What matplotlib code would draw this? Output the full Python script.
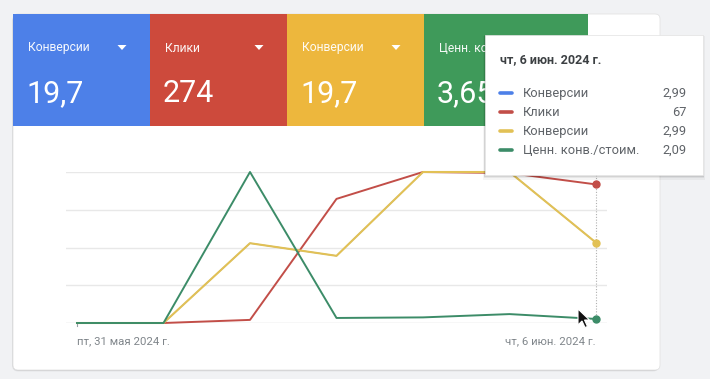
import matplotlib
matplotlib.use("Agg")
import matplotlib.pyplot as plt
from matplotlib.patches import FancyBboxPatch, Rectangle, Polygon

plt.rcParams['font.family'] = ['Roboto', 'DejaVu Sans']

# ---- data ----
days = ["пт, 31 мая 2024 г.", "сб, 1 июн. 2024 г.", "вс, 2 июн. 2024 г.", "пн, 3 июн. 2024 г.",
        "вт, 4 июн. 2024 г.", "ср, 5 июн. 2024 г.", "чт, 6 июн. 2024 г."]
conversions = [0, 0, 2.97, 2.5, 5.62, 5.62, 2.99]
clicks = [0, 0, 1.5, 60, 73, 72.5, 67]
conv_value_cost = [0, 0, 78, 2.6, 2.9, 4.6, 2.09]

tile_labels = ["Конверсии", "Клики", "Конверсии", "Ценн. конв./стоим."]
tile_values = ["19,7", "274", "19,7", "3,65"]
tile_colors = ["#4d80e8", "#cd4a3c", "#edb73d", "#3f9a5a"]
line_colors = ["#4d80e8", "#c24e48", "#e2c155", "#3c8c68"]
series_names = ["Конверсии", "Клики", "Конверсии", "Ценн. конв./стоим."]
tooltip_values = ["2,99", "67", "2,99", "2,09"]
tooltip_title = "чт, 6 июн. 2024 г."

W, H = 710, 379
fig = plt.figure(figsize=(W / 100, H / 100), dpi=100)
fig.patch.set_facecolor("#f1f2f4")

def px_axes(zorder):
    a = fig.add_axes([0, 0, 1, 1], zorder=zorder)
    a.set_xlim(0, W)
    a.set_ylim(H, 0)
    a.axis("off")
    a.patch.set_alpha(0)
    return a

# ---- background card & tiles ----
bg = px_axes(0)
for off, al in [(3, 0.05), (2, 0.06), (1, 0.08)]:
    bg.add_patch(FancyBboxPatch((13 - off * 0.3, 14 + off * 0.5), 647, 356,
                                boxstyle="round,pad=0,rounding_size=6",
                                fc="#000000", ec="none", alpha=al))
bg.add_patch(FancyBboxPatch((13, 14), 647, 356, boxstyle="round,pad=0,rounding_size=5",
                            fc="white", ec="#e3e3e3", lw=0.6))
tile_x = [13, 150, 287, 424]
tile_w = [137, 137, 137, 164]
for i in range(4):
    x0 = tile_x[i]
    bg.add_patch(Rectangle((x0, 14), tile_w[i], 112, fc=tile_colors[i], ec="none"))
    bg.text(x0 + 15, 48, tile_labels[i], color="white", fontsize=8.7, va="center", ha="left", alpha=0.95)
    if i < 3:
        tx = x0 + 109
        bg.add_patch(Polygon([[tx - 4.5, 45], [tx + 4.5, 45], [tx, 50]], closed=True, fc="white", ec="none"))
    bg.text(x0 + 13, 94, tile_values[i], color="white", fontsize=22, va="center", ha="left")

# ---- chart ----
x_left, x_right, y_top, y_base = 66, 607, 172, 323
ax = fig.add_axes([x_left / W, 1 - y_base / H, (x_right - x_left) / W, (y_base - y_top) / H], zorder=1)
ax.patch.set_alpha(0)
xs = list(range(len(days)))
pad = 11 / 86.5
ax.set_xlim(-pad, len(days) - 1 + pad)
ax.set_ylim(0, 1)
for g in [0, 0.25, 0.5, 0.75, 1.0]:
    ax.axhline(g, color="#d9d9d9" if g == 0 else "#e8e8e8", lw=1.0, zorder=0)
for s in ax.spines.values():
    s.set_visible(False)
ax.set_xticks([])
ax.set_yticks([])
ax.plot([0, 0], [0, -0.02], color="#9aa0a6", lw=0.8, clip_on=False)
ax.text(0, -0.09, days[0], transform=ax.transData, ha="left", va="top", fontsize=8.2, color="#80868b")
ax.text(6, -0.09, days[-1], transform=ax.transData, ha="right", va="top", fontsize=8.2, color="#80868b")
ax.axvline(6, ymin=0, ymax=1.0, color="#b0b0b0", lw=0.8, ls=(0, (1, 1.5)), zorder=1)

series = [conversions, clicks, conversions, conv_value_cost]
widths = [0.8, 1.4, 1.5, 1.4]
for i, vals in enumerate(series):
    t = ax.twinx()
    t.set_ylim(0, max(vals))
    t.axis("off")
    t.patch.set_alpha(0)
    t.plot(xs, vals, color=line_colors[i], lw=widths[i], clip_on=False, zorder=2)
    if i > 0:
        t.plot([xs[-1]], [vals[-1]], "o", color=line_colors[i], ms=5, clip_on=False, zorder=3)

# ---- tooltip & cursor overlay ----
ov = px_axes(5)
for off, al in [(4, 0.04), (2.5, 0.06), (1.2, 0.08)]:
    ov.add_patch(Rectangle((485 - off * 0.5, 35 + off * 0.3), 218 + off, 140 + off,
                           fc="#000000", ec="none", alpha=al))
ov.add_patch(Rectangle((485, 35), 218, 140, fc="white", ec="#e6e6e6", lw=0.5))
ov.text(500, 60, tooltip_title, fontsize=9.0, fontweight="bold", color="#3c4043", va="center", ha="left")
for k in range(4):
    yy = 93 + k * 19
    ov.plot([500, 512], [yy, yy], color=line_colors[k], lw=2.6, solid_capstyle="round")
    ov.text(523, yy, series_names[k], fontsize=9.3, color="#5f6368", va="center", ha="left")
    ov.text(687, yy, tooltip_values[k], fontsize=9.3, color="#5f6368", va="center", ha="right")

tip = (578, 309)
cur = [(0, 0), (0, 16), (4, 12), (7, 18.5), (9.5, 17.5), (6.5, 11), (11.5, 11)]
ov.add_patch(Polygon([(tip[0] + a, tip[1] + b) for a, b in cur], closed=True,
                     fc="#111111", ec="white", lw=0.8))

fig.savefig("out.png", dpi=100, facecolor=fig.get_facecolor())
